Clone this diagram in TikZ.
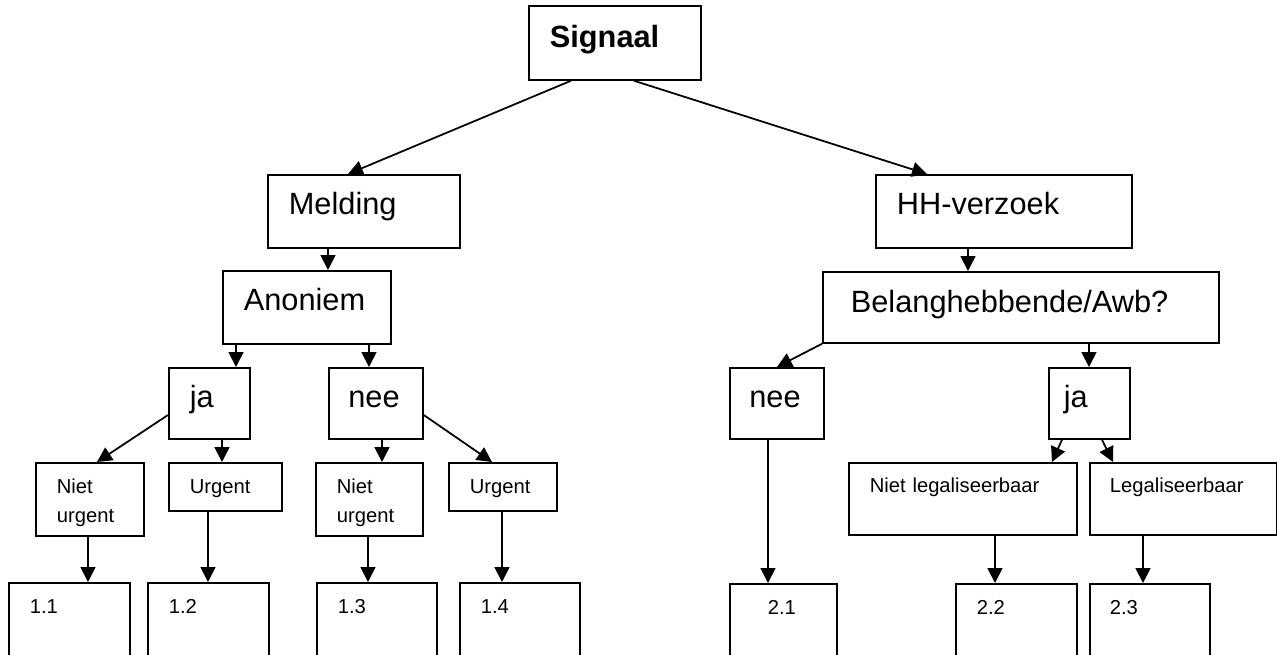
\documentclass[tikz,border=0pt]{standalone}
\usepackage{fontspec}
\setmainfont{Liberation Sans}
\usetikzlibrary{arrows.meta}

\begin{document}
\begin{tikzpicture}
    [x=0.02cm, y=-0.02cm,
    big_box/.style={draw, line width=1pt, anchor=north west, inner xsep=0.42cm, inner ysep=0pt, align=left, font=\fontsize{17.5}{21}\selectfont, text height=0.8cm, text depth=0.66cm},
    small_box/.style={draw, line width=1pt, anchor=north west, inner xsep=0.42cm, inner ysep=0pt, align=left, font=\fontsize{11.5}{16.4}\selectfont, text height=0.62cm, text depth=0.84cm},
    end_box/.style={small_box, text depth=1.14cm},
    arrow_line/.style={line width=1pt, -{Triangle[width=8.5pt, length=8.5pt]}}]
    \useasboundingbox (0, 0) rectangle (1277, 654);
    \clip (0, 0) rectangle (1277, 654);
    % top
    \node[big_box, text width=2.6cm, text height=0.84cm, text depth=0.64cm, font=\bfseries\fontsize{17.5}{21}\selectfont] (sig) at (528, 5) {Signaal};
    % left branch
    \node[big_box, text width=3.0cm] (mel) at (267, 174) {Melding};
    \node[big_box, text width=2.52cm] (ano) at (222, 270) {Anoniem};
    \node[big_box, text width=0.78cm, text depth=0.62cm] (ja_l) at (168, 367) {ja};
    \node[big_box, inner xsep=0.39cm, text width=1.1cm, text depth=0.62cm] (nee_l) at (328, 367) {nee};
    \node[small_box, text width=1.32cm] (nu_1) at (35, 462) {Niet\\urgent};
    \node[small_box, text width=1.42cm, text depth=0.34cm] (u_1) at (168, 462) {Urgent};
    \node[small_box, text width=1.3cm] (nu_2) at (315, 462) {Niet\\urgent};
    \node[small_box, text width=1.32cm, text depth=0.34cm] (u_2) at (448, 462) {Urgent};
    \node[end_box, text width=1.58cm] (b11) at (8, 582) {1.1};
    \node[end_box, text width=1.58cm] (b12) at (147, 582) {1.2};
    \node[end_box, text width=1.56cm] (b13) at (316, 582) {1.3};
    \node[end_box, text width=1.56cm] (b14) at (459, 582) {1.4};
    % right branch
    \node[big_box, text width=4.28cm] (hh) at (875, 174) {HH-verzoek};
    \node[big_box, inner xsep=0.56cm, text width=6.8cm, text height=0.82cm, text depth=0.6cm] (bel) at (822, 271) {Belanghebbende/Awb?};
    \node[big_box, inner xsep=0.39cm, text width=1.1cm, text depth=0.62cm] (nee_r) at (729, 367) {nee};
    \node[big_box, inner xsep=0.3cm, text width=1.02cm, text depth=0.62cm] (ja_r) at (1048, 367) {ja};
    \node[small_box, text width=3.72cm, text height=0.6cm, text depth=0.84cm] (nl) at (848, 462) {Niet legaliseerbaar};
    \node[small_box, inner xsep=0.4cm, text width=2.94cm, text height=0.6cm, text depth=0.84cm] (leg) at (1089, 462) {Legaliseerbaar};
    \node[end_box, inner xsep=0.76cm, text width=0.62cm] (b21) at (729, 583) {2.1};
    \node[end_box, text width=1.58cm] (b22) at (955, 583) {2.2};
    \node[end_box, inner xsep=0.4cm, text width=1.6cm] (b23) at (1089, 583) {2.3};
    % arrows
    \draw[arrow_line] ([xshift=0.86cm]sig.south west) -- ([xshift=1.62cm]mel.north west);
    \draw[arrow_line] ([xshift=2.12cm]sig.south west) -- ([xshift=1.04cm]hh.north west);
    \draw[arrow_line] ([xshift=1.22cm]mel.south west) -- ([xshift=2.12cm]ano.north west);
    \draw[arrow_line] ([xshift=0.28cm]ano.south west) -- ([xshift=1.36cm]ja_l.north west);
    \draw[arrow_line] ([xshift=2.94cm]ano.south west) -- ([xshift=0.82cm]nee_l.north west);
    \draw[arrow_line] ([yshift=-0.96cm]ja_l.north west) -- ([xshift=1.24cm]nu_1.north west);
    \draw[arrow_line] ([xshift=1.08cm]ja_l.south west) -- ([xshift=1.08cm]u_1.north west);
    \draw[arrow_line] ([xshift=1.08cm]nee_l.south west) -- ([xshift=1.34cm]nu_2.north west);
    \draw[arrow_line] ([yshift=-0.96cm]nee_l.north east) -- ([xshift=0.88cm]u_2.north west);
    \draw[arrow_line] ([xshift=1.06cm]nu_1.south west) -- ([xshift=1.6cm]b11.north west);
    \draw[arrow_line] ([xshift=0.8cm]u_1.south west) -- ([xshift=1.22cm]b12.north west);
    \draw[arrow_line] ([xshift=1.06cm]nu_2.south west) -- ([xshift=1.04cm]b13.north west);
    \draw[arrow_line] ([xshift=1.08cm]u_2.south west) -- ([xshift=0.86cm]b14.north west);
    \draw[arrow_line] ([xshift=1.86cm]hh.south west) -- ([xshift=2.92cm]bel.north west);
    \draw[arrow_line] (bel.south west) -- ([xshift=0.96cm]nee_r.north west);
    \draw[arrow_line] ([xshift=5.34cm]bel.south west) -- ([xshift=0.82cm]ja_r.north west);
    \draw[arrow_line] ([xshift=0.28cm]ja_r.south west) -- ([xshift=4.08cm]nl.north west);
    \draw[arrow_line] ([xshift=1.08cm]ja_r.south west) -- ([xshift=0.48cm]leg.north west);
    \draw[arrow_line] ([xshift=0.78cm]nee_r.south west) -- ([xshift=0.78cm]b21.north west);
    \draw[arrow_line] ([xshift=2.94cm]nl.south west) -- ([xshift=0.8cm]b22.north west);
    \draw[arrow_line] ([xshift=1.08cm]leg.south west) -- ([xshift=1.08cm]b23.north west);
\end{tikzpicture}
\end{document}
